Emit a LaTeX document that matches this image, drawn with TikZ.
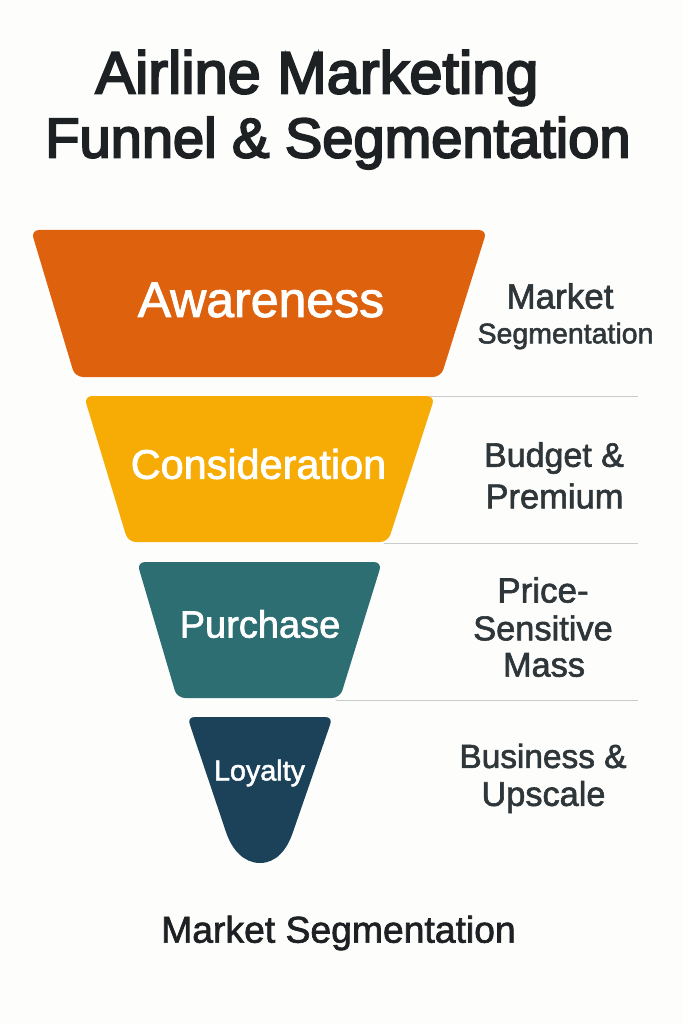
\documentclass[tikz,border=0pt]{standalone}
\usepackage{fontspec}
\setmainfont{Liberation Sans}
\newfontfamily\medfont[FakeBold=3.5]{Liberation Sans}
\newfontfamily\sidefont[FakeBold=1.8]{Liberation Sans}
\definecolor{bgc}{HTML}{FDFDFC}
\definecolor{orangec}{HTML}{DE620E}
\definecolor{yellowc}{HTML}{F6AC05}
\definecolor{tealc}{HTML}{2D6E73}
\definecolor{navyc}{HTML}{1B4259}
\definecolor{inkc}{HTML}{1E2123}
\definecolor{sidec}{HTML}{2F3639}
\definecolor{rulec}{HTML}{C9CCCC}
\newcommand{\fsz}[1]{\fontsize{#1}{#1}\selectfont}
\tikzset{
  x=1pt,y=-1pt,
  band/.style={rounded corners=8pt},
  title/.style={text=inkc,inner sep=0pt},
  stage/.style={text=white,inner sep=0pt,anchor=center},
  side/.style={text=sidec,inner sep=0pt,align=center,anchor=center},
  sep/.style={draw=rulec,line width=0.8pt}
}
\begin{document}
\begin{tikzpicture}
\path[use as bounding box,fill=bgc] (0,0) rectangle (683,1024);
% separators
\coordinate (r1a) at (430,396); \coordinate (r1b) at (638,396);
\coordinate (r2a) at (384,543); \coordinate (r2b) at (638,543);
\coordinate (r3a) at (336,700); \coordinate (r3b) at (638,700);
\draw[sep] (r1a) -- (r1b);
\draw[sep] (r2a) -- (r2b);
\draw[sep] (r3a) -- (r3b);
% funnel
\fill[orangec,band] (31,230) -- (487,230) -- (441,377) -- (75,377) -- cycle;
\fill[yellowc,band] (84,396) -- (435,396) -- (388,542) -- (128,542) -- cycle;
\fill[tealc,band] (137,562) -- (382,562) -- (340,698) -- (177,698) -- cycle;
\fill[navyc] (195,717) -- (325,717) .. controls (330,717) and (332,720) .. (330,725)
  -- (293,832) .. controls (287,850) and (276,863) .. (260,863)
  .. controls (244,863) and (232,850) .. (226,832)
  -- (190,725) .. controls (188,720) and (190,717) .. (195,717) -- cycle;
% titles
\node[title,font=\medfont\fsz{59.5}] (t1) at (317,78) {Airline Marketing};
\node[title,font=\medfont\fsz{56}] (t2) at (338,143) {Funnel \& Segmentation};
% stages
\node[stage,font=\sidefont\fsz{50}] (aw) at (261,300) {Awareness};
\node[stage,font=\sidefont\fsz{41.4}] (co) at (258.5,464) {Consideration};
\node[stage,font=\sidefont\fsz{38}] (pu) at (260,624) {Purchase};
\node[stage,font=\sidefont\fsz{28.7}] (lo) at (259.5,773) {Loyalty};
% side labels
\node[side,font=\sidefont\fsz{35}] (m1) at (560,296) {Market};
\node[side,font=\sidefont\fsz{28.5}] (m2) at (565.5,336) {Segmentation};
\node[side,font=\sidefont\fsz{34}] (b1) at (554,458) {Budget \&};
\node[side,font=\sidefont\fsz{34.5}] (b2) at (554.5,496) {Premium};
\node[side,font=\sidefont\fsz{35}] (p1) at (543,590) {Price-};
\node[side,font=\sidefont\fsz{34.4}] (p2) at (543,628) {Sensitive};
\node[side,font=\sidefont\fsz{34.3}] (p3) at (544,665) {Mass};
\node[side,font=\sidefont\fsz{33.4}] (u1) at (543,756) {Business \&};
\node[side,font=\sidefont\fsz{34.3}] (u2) at (543.5,797) {Upscale};
\node[text=inkc,inner sep=0pt,font=\sidefont\fsz{37.3}] (ms) at (338.5,933) {Market Segmentation};
\end{tikzpicture}
\end{document}
